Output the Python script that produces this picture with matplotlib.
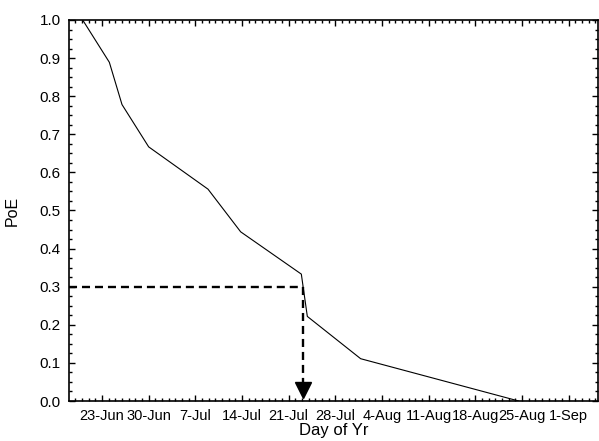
import matplotlib
matplotlib.use("Agg")
import matplotlib.pyplot as plt
from matplotlib.ticker import MultipleLocator, FixedLocator
import numpy as np

plt.rcParams['font.family'] = ['Liberation Sans', 'DejaVu Sans']

# day of year (non-leap year) and probability of exceedance
doy = [171.1, 175.1, 177.0, 181.0, 189.9, 194.8, 203.9, 204.8, 212.8, 236.5]
poe = [1.0, 0.889, 0.778, 0.667, 0.556, 0.444, 0.333, 0.222, 0.111, 0.0]

# design level
target_poe = 0.3
target_doy = 204.1

tick_doy = [174, 181, 188, 195, 202, 209, 216, 223, 230, 237, 244]
tick_lbl = ['23-Jun', '30-Jun', '7-Jul', '14-Jul', '21-Jul', '28-Jul',
            '4-Aug', '11-Aug', '18-Aug', '25-Aug', '1-Sep']

fig = plt.figure(figsize=(5.99, 4.41), dpi=100)
ax = fig.add_axes([0.1152, 0.0907, 0.8831, 0.864])

ax.plot(doy, poe, color='black', lw=0.8)

# dashed lookup: horizontal to the curve, then down to the date axis
ax.plot([169, target_doy], [target_poe, target_poe], color='black', lw=1.7,
        dashes=(3.4, 2.1))
ax.plot([target_doy, target_doy], [target_poe, 0.04], color='black', lw=1.7,
        dashes=(3.4, 2.1))
ax.plot([target_doy], [0.029], marker='v', color='black', markersize=11,
        linestyle='none')

ax.set_xlim(169.05, 248.4)
ax.set_ylim(0, 1.0)

ax.xaxis.set_major_locator(FixedLocator(tick_doy))
ax.set_xticklabels(tick_lbl)
ax.xaxis.set_minor_locator(MultipleLocator(1))
ax.yaxis.set_major_locator(MultipleLocator(0.1))
ax.yaxis.set_minor_locator(MultipleLocator(0.025))
ax.yaxis.set_major_formatter(matplotlib.ticker.FormatStrFormatter('%.1f'))

ax.tick_params(which='both', direction='in', top=True, right=True,
               labelsize=10.5, width=1.0)
ax.tick_params(axis='y', labelsize=11)
ax.tick_params(which='major', length=4, pad=6)
ax.tick_params(which='minor', length=2.5)
for s in ax.spines.values():
    s.set_linewidth(1.2)

ax.set_ylabel('PoE', fontsize=11.5, labelpad=14)
ax.set_xlabel('Day of Yr', fontsize=12, labelpad=0)

fig.savefig('out.png', dpi=100)
